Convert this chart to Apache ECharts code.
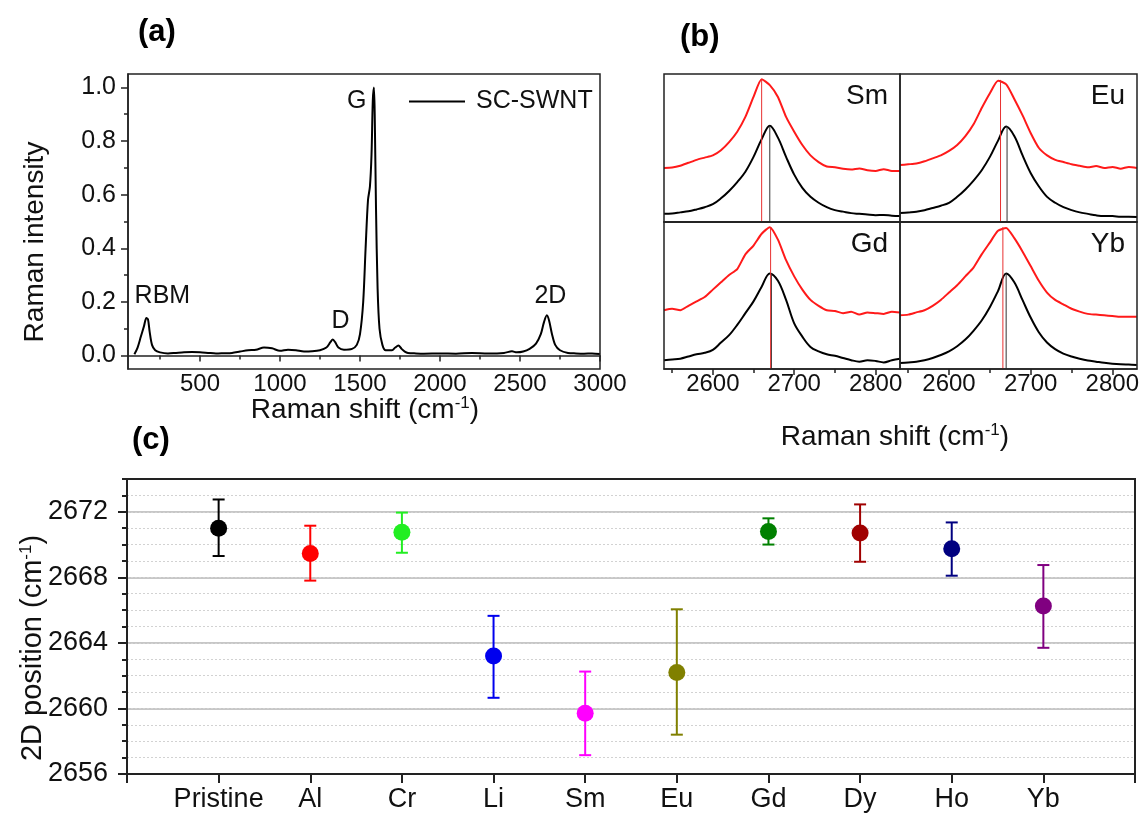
<!DOCTYPE html>
<html><head><meta charset="utf-8">
<script src="https://cdn.jsdelivr.net/npm/echarts@6/dist/echarts.min.js"></script>
<style>html,body{margin:0;padding:0;background:#fff}#c{width:1142px;height:817px}</style>
</head><body><div id="c"></div>
<script>
// ---------- Panel (a) data ----------
const specPoints = [
 [90,0.005],[110,0.03],[130,0.07],[150,0.11],[165,0.14],[175,0.135],[185,0.09],[200,0.04],[220,0.02],[250,0.012],
 [300,0.008],[350,0.01],[400,0.012],[450,0.013],[500,0.012],[550,0.01],[600,0.008],[650,0.009],[700,0.01],[750,0.015],
 [800,0.02],[850,0.022],[900,0.03],[950,0.027],[1000,0.018],[1050,0.022],[1100,0.02],[1150,0.015],[1200,0.016],[1250,0.02],
 [1290,0.03],[1315,0.05],[1330,0.06],[1345,0.05],[1365,0.03],[1400,0.022],[1450,0.025],[1480,0.04],[1500,0.08],[1520,0.2],
 [1535,0.4],[1550,0.58],[1562,0.63],[1572,0.75],[1580,0.95],[1587,1.0],[1592,0.9],[1600,0.55],[1610,0.25],[1622,0.1],
 [1640,0.04],[1660,0.02],[1700,0.02],[1720,0.03],[1740,0.038],[1760,0.025],[1780,0.015],[1800,0.01],[1850,0.008],[1900,0.007],
 [2000,0.008],[2100,0.007],[2200,0.01],[2300,0.008],[2400,0.01],[2450,0.016],[2480,0.012],[2520,0.015],[2560,0.025],[2600,0.045],
 [2630,0.08],[2650,0.125],[2668,0.15],[2682,0.13],[2700,0.08],[2720,0.04],[2750,0.02],[2800,0.01],[2850,0.008],[2900,0.007],
 [2950,0.008],[3000,0.006]
];
const specName = 'SC-SWNT';
const peakNames = ['RBM','D','G','2D'];
const peakLabelX = [265,1378,1480,2690];
const peakLabelY = [0.22,0.13,0.95,0.22];
const aXLabelVals = [500,1000,1500,2000,2500,3000];
const aXMinorVals = [250,750,1250,1750,2250,2750];
const aYLabelVals = [0,0.2,0.4,0.6,0.8,1.0];
const aYMinorVals = [0.1,0.3,0.5,0.7,0.9];

// ---------- Panel (b) data ----------
const bShift = [2540,2550,2560,2570,2580,2590,2600,2610,2620,2630,2640,2650,2660,2670,2680,2690,2700,2710,2720,2730,2740,2750,2760,2770,2780,2790,2800,2810,2820,2830];
const bNames = ['Sm','Eu','Gd','Yb'];
const smBlack = [0.055,0.058,0.065,0.072,0.085,0.1,0.12,0.16,0.21,0.27,0.34,0.44,0.56,0.65,0.57,0.44,0.32,0.23,0.17,0.13,0.1,0.08,0.07,0.06,0.055,0.05,0.046,0.048,0.042,0.04];
const smRed   = [0.365,0.368,0.38,0.4,0.42,0.435,0.45,0.485,0.54,0.61,0.71,0.845,0.965,0.925,0.845,0.71,0.61,0.52,0.45,0.405,0.375,0.37,0.36,0.355,0.362,0.35,0.345,0.357,0.345,0.345];
const euBlack = [0.06,0.065,0.07,0.08,0.095,0.11,0.13,0.17,0.22,0.28,0.35,0.44,0.55,0.645,0.58,0.45,0.33,0.24,0.17,0.13,0.1,0.08,0.065,0.055,0.045,0.04,0.04,0.035,0.035,0.034];
const euRed   = [0.385,0.39,0.395,0.41,0.43,0.45,0.48,0.52,0.58,0.66,0.77,0.87,0.955,0.93,0.83,0.72,0.6,0.5,0.45,0.42,0.405,0.39,0.38,0.37,0.378,0.365,0.372,0.36,0.372,0.365];
const gdBlack = [0.06,0.065,0.07,0.085,0.1,0.11,0.13,0.18,0.23,0.3,0.38,0.46,0.56,0.65,0.6,0.47,0.31,0.22,0.15,0.12,0.1,0.09,0.075,0.06,0.05,0.06,0.055,0.045,0.06,0.07];
const gdRed   = [0.4,0.41,0.4,0.43,0.46,0.49,0.54,0.59,0.64,0.68,0.78,0.84,0.92,0.965,0.88,0.74,0.63,0.54,0.47,0.43,0.4,0.395,0.38,0.39,0.37,0.385,0.38,0.375,0.39,0.385];
const ybBlack = [0.04,0.045,0.05,0.06,0.075,0.095,0.12,0.155,0.2,0.26,0.33,0.42,0.53,0.65,0.59,0.47,0.35,0.25,0.18,0.135,0.105,0.085,0.07,0.058,0.05,0.042,0.036,0.032,0.03,0.028];
const ybRed   = [0.365,0.37,0.385,0.4,0.43,0.47,0.52,0.57,0.63,0.69,0.78,0.86,0.94,0.96,0.89,0.8,0.7,0.6,0.52,0.47,0.44,0.41,0.39,0.375,0.37,0.365,0.36,0.355,0.355,0.355];
const redPeakPos   = [2660,2663,2671,2666];
const blackPeakPos = [2670,2671,2672,2670];
const redPeakTop   = [0.965,0.96,0.965,0.965];
const blackPeakTop = [0.65,0.648,0.65,0.65];
const bXLabelVals = [2600,2700,2800];
const bXMinorVals = [2550,2650,2750];

// ---------- Panel (c) data ----------
const categories = ['Pristine','Al','Cr','Li','Sm','Eu','Gd','Dy','Ho','Yb'];
const position2D = [2671.0,2669.45,2670.75,2663.2,2659.7,2662.2,2670.8,2670.7,2669.75,2666.25];
const errLow     = [2669.3,2667.8,2669.5,2660.65,2657.15,2658.4,2670.0,2668.95,2668.1,2663.7];
const errHigh    = [2672.75,2671.15,2671.95,2665.65,2662.25,2666.05,2671.6,2672.45,2671.35,2668.75];
const catColors  = ['#000000','#ff0000','#22ee22','#0000ee','#ff00ff','#808000','#008000','#a00000','#000080','#800080'];
const cYLabelVals = [2656,2660,2664,2668,2672];
const cYMin = 2656, cYMax = 2674;

// ---------- layout ----------
const FONT = 'Liberation Sans, Arial, sans-serif';
const A = {left:128, top:74, width:472, height:295};
const B = [
  {left:664, top:74, width:236, height:148},
  {left:900, top:74, width:237, height:148},
  {left:664, top:222, width:236, height:147},
  {left:900, top:222, width:237, height:147}
];
const C = {left:127, top:479, width:1008, height:295};
const AX = '#222';
const TXT = '#111';
const plain = v => String(Math.round(v * 1000) / 1000);

const tickStyle = {color: AX, width: 1.5};
const supRich = sz => ({sup: {fontSize: sz, verticalAlign: 'top', lineHeight: 30, fontFamily: FONT, fill: TXT, color: TXT}});

const grids = [A, ...B, C].map(g => Object.assign({containLabel:false}, g));

const xAxes = [];
const yAxes = [];
// panel a
xAxes.push({type:'value', gridIndex:0, min:50, max:3000,
  axisLine:{show:true, lineStyle:{color:AX, width:1.5}},
  axisTick:{show:true, inside:false, length:6, lineStyle:tickStyle, customValues:aXLabelVals},
  axisLabel:{show:true, fontSize:24, fontFamily:FONT, color:TXT, margin:3, customValues:aXLabelVals, formatter:plain},
  splitLine:{show:false}});
xAxes.push({type:'value', gridIndex:0, min:50, max:3000, position:'bottom',
  axisLine:{show:false}, axisTick:{show:true, length:4, lineStyle:tickStyle, customValues:aXMinorVals},
  axisLabel:{show:false}, splitLine:{show:false}});
yAxes.push({type:'value', gridIndex:0, min:-0.05, max:1.05, position:'left',
  axisLine:{show:true, lineStyle:{color:AX, width:1.5}},
  axisTick:{show:true, length:7, lineStyle:tickStyle, customValues:aYLabelVals},
  axisLabel:{show:true, fontSize:25, fontFamily:FONT, color:TXT, margin:12, customValues:aYLabelVals, formatter:v=>Number(v).toFixed(1)},
  splitLine:{show:false}});
yAxes.push({type:'value', gridIndex:0, min:-0.05, max:1.05, position:'left',
  axisLine:{show:false}, axisTick:{show:true, length:4, lineStyle:tickStyle, customValues:aYMinorVals},
  axisLabel:{show:false}, splitLine:{show:false}});
// panel b
const bXAxisIdx = [];
B.forEach((g, k) => {
  const bottom = k >= 2;
  bXAxisIdx.push(xAxes.length);
  xAxes.push({type:'value', gridIndex:1+k, min:2540, max:2830,
    axisLine:{show:true, lineStyle:{color:AX, width:1.5}},
    axisTick:{show:bottom, length:6, lineStyle:tickStyle, customValues:bXLabelVals},
    axisLabel:{show:bottom, fontSize:24, fontFamily:FONT, color:TXT, margin:3, customValues:bXLabelVals, formatter:plain},
    splitLine:{show:false}});
  if (bottom) {
    xAxes.push({type:'value', gridIndex:1+k, min:2540, max:2830, position:'bottom',
      axisLine:{show:false}, axisTick:{show:true, length:4, lineStyle:tickStyle, customValues:bXMinorVals},
      axisLabel:{show:false}, splitLine:{show:false}});
  }
  yAxes.push({type:'value', gridIndex:1+k, min:0, max:1, show:false});
});
const bYAxisIdx = [2,3,4,5];
// panel c
const cXIdx = xAxes.length;
xAxes.push({type:'category', gridIndex:5, data:['', ...categories, ''], boundaryGap:false,
  axisLine:{show:true, lineStyle:{color:AX, width:2}},
  axisTick:{show:true, length:9, interval:0, lineStyle:{color:AX, width:2}},
  axisLabel:{show:true, interval:0, fontSize:27, fontFamily:FONT, color:TXT, margin:12},
  splitLine:{show:false}});
const cYIdx = yAxes.length;
yAxes.push({type:'value', gridIndex:5, min:cYMin, max:cYMax, interval:4, position:'left',
  axisLine:{show:true, lineStyle:{color:AX, width:2}},
  axisTick:{show:true, length:9, lineStyle:{color:AX, width:2}, customValues:cYLabelVals},
  axisLabel:{show:true, fontSize:27, fontFamily:FONT, color:TXT, margin:19, customValues:cYLabelVals, formatter:plain},
  splitLine:{show:true, lineStyle:{color:'#b4b4b4', width:1.5}}});
yAxes.push({type:'value', gridIndex:5, min:cYMin, max:cYMax, interval:1, position:'left',
  axisLine:{show:false},
  axisTick:{show:true, length:5, lineStyle:{color:AX, width:2}},
  axisLabel:{show:false},
  splitLine:{show:true, lineStyle:{color:'#d2d2d2', width:1, type:[2,2]}}});

// ---------- series ----------
const series = [];
series.push({name:specName, type:'line', xAxisIndex:0, yAxisIndex:0, data:specPoints, symbol:'none',
  lineStyle:{color:'#000', width:2}, itemStyle:{color:'#000'}, smooth:0.3, z:3,
  markPoint:{symbol:'circle', symbolSize:0, silent:true,
    label:{show:true, position:'inside', fontSize:25, fontFamily:FONT, color:TXT, formatter:p=>p.name},
    data: peakNames.map((n,i)=>({name:n, coord:[peakLabelX[i], peakLabelY[i]]}))}});

const bBlack = [smBlack, euBlack, gdBlack, ybBlack];
const bRed = [smRed, euRed, gdRed, ybRed];
B.forEach((g, k) => {
  const xi = bXAxisIdx[k], yi = bYAxisIdx[k];
  series.push({type:'line', xAxisIndex:xi, yAxisIndex:yi, symbol:'none', z:3, smooth:0.35,
    data: bShift.map((x,i)=>[x, bBlack[k][i]]), lineStyle:{color:'#000', width:2}});
  series.push({type:'line', xAxisIndex:xi, yAxisIndex:yi, symbol:'none', z:3, smooth:0.2,
    data: bShift.map((x,i)=>[x, bRed[k][i]]), lineStyle:{color:'#ff1a1a', width:2}});
  series.push({type:'line', xAxisIndex:xi, yAxisIndex:yi, symbol:'none', z:4,
    data: [[blackPeakPos[k],0],[blackPeakPos[k],blackPeakTop[k]]], lineStyle:{color:'#333', width:1}});
  series.push({type:'line', xAxisIndex:xi, yAxisIndex:yi, symbol:'none', z:4,
    data: [[redPeakPos[k],0],[redPeakPos[k],redPeakTop[k]]], lineStyle:{color:'#e83030', width:1}});
});

series.push({type:'custom', xAxisIndex:cXIdx, yAxisIndex:cYIdx, z:5,
  data: categories.map((c,i)=>({value:[c, errLow[i], errHigh[i]], itemStyle:{color:catColors[i]}})),
  renderItem:(params, api)=>{
    const x = api.value(0);
    const lo = api.coord([x, api.value(1)]);
    const hi = api.coord([x, api.value(2)]);
    const w = 6;
    const st = {stroke: api.visual('color'), lineWidth: 2};
    return {type:'group', children:[
      {type:'line', shape:{x1:lo[0], y1:lo[1], x2:hi[0], y2:hi[1]}, style:st},
      {type:'line', shape:{x1:lo[0]-w, y1:lo[1], x2:lo[0]+w, y2:lo[1]}, style:st},
      {type:'line', shape:{x1:hi[0]-w, y1:hi[1], x2:hi[0]+w, y2:hi[1]}, style:st}
    ]};
  }});
series.push({type:'scatter', xAxisIndex:cXIdx, yAxisIndex:cYIdx, symbol:'circle', symbolSize:17, z:6,
  data: categories.map((c,i)=>({value:[c, position2D[i]], itemStyle:{color:catColors[i], opacity:1}}))});

// ---------- frames & texts ----------
const frame = (g, w) => ({type:'rect', z:50, silent:true,
  shape:{x:g.left, y:g.top, width:g.width, height:g.height},
  style:{fill:'none', stroke:AX, lineWidth:w}});
const axisName = (text, x, y, size, rot) => ({type:'text', z:60, x:x, y:y, rotation:rot ? Math.PI/2 : 0,
  style:{text:text, fontSize:size, fontFamily:FONT, fill:TXT, align:'center', verticalAlign:'middle', lineHeight:30, rich:supRich(Math.round(size*0.6))}});
const graphic = [
  frame(A, 1.5),
  ...B.map(g => frame(g, 1.5)),
  frame(C, 2),
  {type:'text', left:138, top:17, z:60, style:{text:'(a)', font:'bold 31px '+FONT, fill:'#000'}},
  {type:'text', left:680, top:22, z:60, style:{text:'(b)', font:'bold 31px '+FONT, fill:'#000'}},
  {type:'text', left:132, top:425, z:60, style:{text:'(c)', font:'bold 31px '+FONT, fill:'#000'}},
  axisName('Raman shift (cm{sup|-1})', 365, 410, 28, false),
  axisName('Raman intensity', 35, 242, 28, true),
  axisName('Raman shift (cm{sup|-1})', 895, 437, 28, false),
  axisName('2D position (cm{sup|-1})', 33, 648, 29, true),
  ...B.map((g,k)=>({type:'text', z:60, x:g.left+g.width-12, y:g.top+22,
    style:{text:bNames[k], fontSize:28, fontFamily:FONT, fill:TXT, align:'right', verticalAlign:'middle'}}))
];

const chart = echarts.init(document.getElementById('c'), null, {renderer:'canvas'});
chart.setOption({
  animation:false,
  backgroundColor:'#fff',
  grid: grids,
  xAxis: xAxes,
  yAxis: yAxes,
  legend: {data:[specName], left:404, top:84, icon:'rect', itemWidth:56, itemHeight:2, itemGap:0,
    textStyle:{fontSize:25, fontFamily:FONT, color:TXT, padding:[0,0,0,6]}},
  series: series,
  graphic: graphic
});
</script></body></html>
